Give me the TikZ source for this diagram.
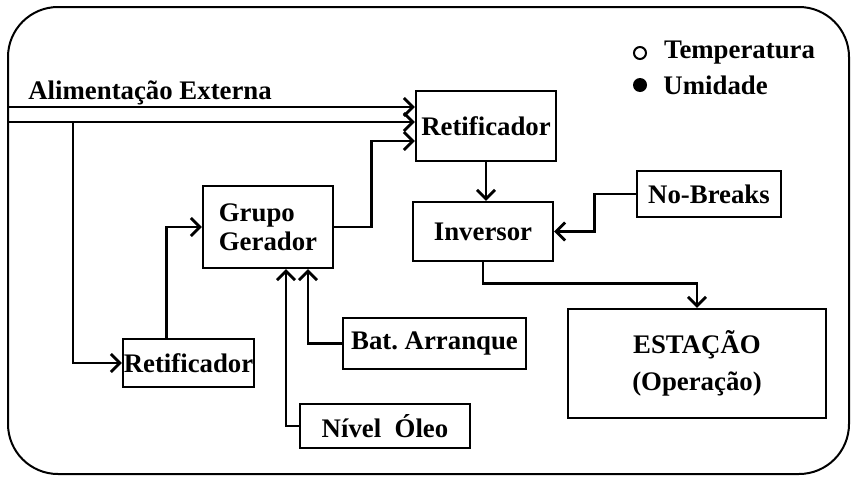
\documentclass[tikz,border=0pt]{standalone}
\usepackage{fontspec}
\setmainfont{Liberation Serif}
\usetikzlibrary{arrows.meta,positioning,calc}

\tikzset{
  txt/.style={font=\bfseries\fontsize{13.4}{14.5}\selectfont},
  blk/.style={txt, draw, line width=1.2pt, inner sep=2pt},
  lnk/.style={->, line width=1.4pt},
}

\begin{document}
\begin{tikzpicture}[x=0.5pt,y=-0.5pt,>={Straight Barb[length=4.5pt,width=9pt]}]
            \useasboundingbox (0,0) rectangle (851,477);
            \draw[line width=1pt, rounded corners=25pt] (8,7) rectangle (849,474);
            % legenda
            \node[circle, draw, line width=1pt, inner sep=0pt, minimum size=6pt] (tdot) at (640,53) {};
            \node[txt, right=5pt of tdot] (ttxt) {Temperatura};
            \node[circle, fill, inner sep=0pt, minimum size=7pt] (udot) at (640,85) {};
            \node[txt, right=4.5pt of udot] (utxt) {Umidade};
            % blocos
            \node[txt, anchor=base west, inner sep=0pt] (alim) at (28,99) {Alimentação Externa};
            \node[blk, minimum width=70pt, minimum height=35pt] (ret1) at (486,126) {Retificador};
            \node[blk, align=left, minimum width=65pt, minimum height=41pt] (gg) at (268,227) {Grupo\\Gerador};
            \node[blk, minimum width=70pt, minimum height=29.5pt] (inv) at (483,231.5) {Inversor};
            \node[blk, minimum width=72pt, minimum height=23pt] (nb) at (709,194) {No-Breaks};
            \node[blk, align=center, minimum width=129pt, minimum height=54.5pt] (est) at (697,363.5) {ESTAÇÃO\\[4pt](Operação)};
            \node[blk, minimum width=91.5pt, minimum height=25.5pt] (bat) at (434.5,343.5) {Bat.\ Arranque};
            \node[blk, minimum width=85pt, minimum height=22pt] (oleo) at (385,426) {Nível~~Óleo};
            \node[blk, inner xsep=0pt, minimum width=65.5pt, minimum height=24pt] (ret2) at (188.5,363) {Retificador};
            % ligacoes
            \coordinate (feed1) at (8,107);
            \coordinate (feed2) at (8,122);
            \coordinate (tap) at (73,122);
            \draw[lnk] (feed1) -- (feed1 -| ret1.west);
            \draw[lnk] (feed2) -- (feed2 -| ret1.west);
            \draw[lnk] (tap) |- (ret2.west);
            \draw[lnk] ($(ret2.north west)+(45,0)$) |- (gg.west);
            \draw[lnk] (gg.east) -- ++(37,0) |- ($(ret1.west)+(0,15)$);
            \draw[lnk] (ret1.south) -- (ret1.south |- inv.north);
            \draw[lnk] (nb.west) -- ++(-41,0) |- (inv.east);
            \draw[lnk] (inv.south) -- ++(0,21) -| (est.north);
            \draw[lnk] (bat.west) -| ($(gg.south)+(40,0)$);
            \draw[lnk] (oleo.west) -| ($(gg.south)+(18,0)$);
        \end{tikzpicture}
\end{document}
